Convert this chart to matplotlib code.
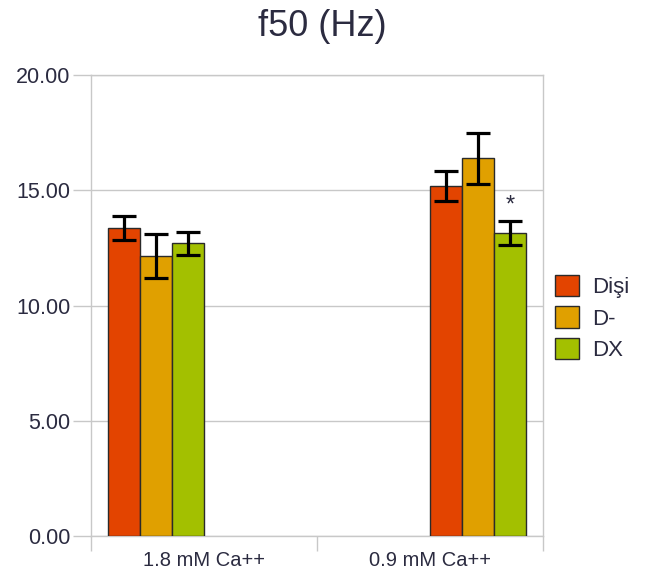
import matplotlib
matplotlib.use("Agg")
import matplotlib.pyplot as plt
import numpy as np

categories = ["1.8 mM Ca++", "0.9 mM Ca++"]
series = ["Dişi", "D-", "DX"]
values = {
    "Dişi": [13.36, 15.18],
    "D-": [12.15, 16.39],
    "DX": [12.71, 13.16],
}
errors = {
    "Dişi": [0.51, 0.66],
    "D-": [0.94, 1.10],
    "DX": [0.50, 0.52],
}
colors = ["#e34400", "#e0a000", "#a3c000"]
yticks = [0.0, 5.0, 10.0, 15.0, 20.0]
title = "f50 (Hz)"

plt.rcParams["font.family"] = ["Liberation Sans", "DejaVu Sans"]

txt = "#2b2b40"
grid = "#c8c8c8"

fig = plt.figure(figsize=(6.49, 5.83), dpi=100)
ax = fig.add_axes([91/649, (583-536)/583, (543-91)/649, (536-75)/583])

w = 0.142
group_start = [0.5 - 3*w, 1.5]
handles = []
for i, (s, c) in enumerate(zip(series, colors)):
    xs = [group_start[g] + i*w for g in range(len(categories))]
    b = ax.bar(xs, values[s], width=w, align="edge", color=c,
               edgecolor="#2a2a2a", linewidth=1.0, zorder=3, label=s)
    ax.errorbar([x + w/2 for x in xs], values[s], yerr=errors[s], fmt="none",
                ecolor="black", elinewidth=2.3, capsize=8.5, capthick=2.3, zorder=4)
    handles.append(b)

# significance star above DX in second group
gi = 1
xs_star = group_start[gi] + 2*w + w/2
ax.text(xs_star, values["DX"][gi] + errors["DX"][gi] + 0.2, "*",
        ha="center", va="bottom", fontsize=17, color=txt, zorder=5)

ax.set_xlim(0, 2)
ax.set_ylim(0, 20)
ax.set_yticks(yticks)
ax.set_yticklabels([f"{t:.2f}" for t in yticks], fontsize=15.5, color=txt)
ax.yaxis.grid(True, color=grid, linewidth=1, zorder=0)
ax.tick_params(axis="y", length=13, color=grid, width=1, pad=2)

ax.set_xticks([0, 1, 2])
ax.set_xticklabels([])
ax.set_xticks([0.5, 1.5], minor=True)
ax.set_xticklabels(categories, minor=True, fontsize=14.5, color=txt)
ax.tick_params(axis="x", which="major", length=11, color=grid, width=1)
ax.tick_params(axis="x", which="minor", length=0, pad=11)

for sp in ["left", "right", "top", "bottom"]:
    ax.spines[sp].set_color(grid)
    ax.spines[sp].set_linewidth(1)

fig.text(322/649, 1 - 26/583, title, ha="center", va="center",
         fontsize=26, color=txt)

leg = fig.legend(handles, series, loc="center left",
                 bbox_to_anchor=(555/649, 1 - 318/583), frameon=False,
                 borderpad=0, borderaxespad=0,
                 fontsize=16, handlelength=1.08, handleheight=1.08,
                 handletextpad=0.6, labelspacing=0.38, labelcolor=txt)

fig.savefig("out.png", dpi=100)
